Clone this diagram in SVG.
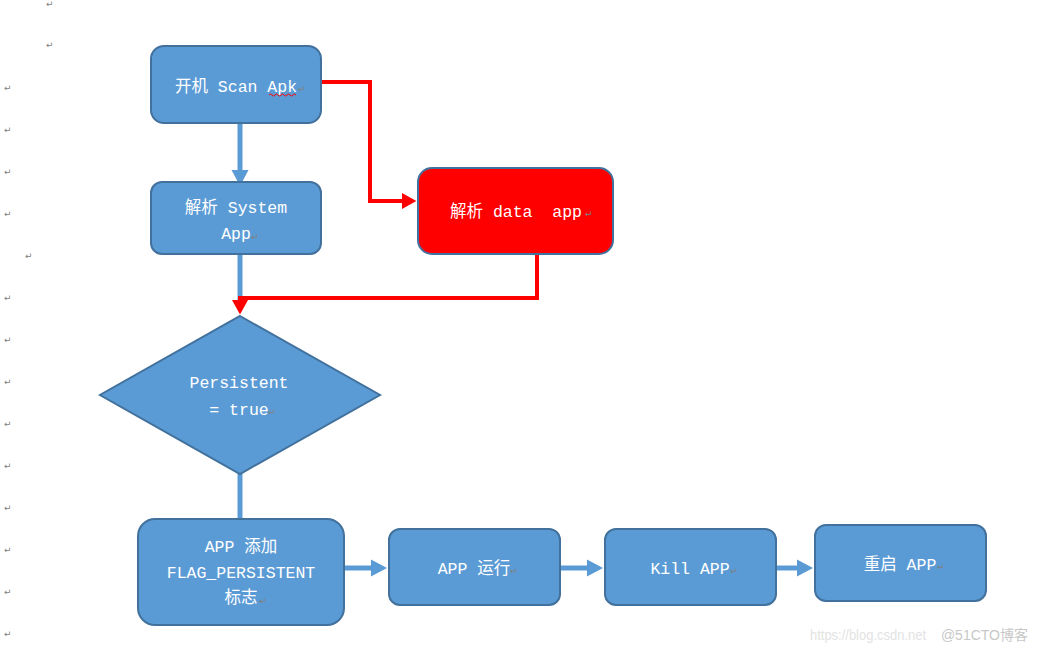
<svg xmlns="http://www.w3.org/2000/svg" width="1037" height="653" viewBox="0 0 1037 653">
<style>
.box{fill:#5b9bd5;stroke:#41719c;stroke-width:2}
.red{fill:#ff0000;stroke:#41719c;stroke-width:2}
.t{font-family:"Liberation Mono","Noto Sans CJK SC",monospace;font-size:16.5px;fill:#ffffff;text-anchor:middle}
.pm{font-family:"DejaVu Sans",sans-serif;font-size:9px;fill:#808080}
.bl{fill:none;stroke:#5b9bd5;stroke-width:5}
.rl{fill:none;stroke:#ff0000;stroke-width:4}
</style>
<defs>
<marker id="ab" markerWidth="4" markerHeight="4" refX="2" refY="2" orient="auto" markerUnits="strokeWidth"><path d="M0,0.3 L3.2,2 L0,3.7 Z" fill="#5b9bd5"/></marker>
<marker id="ar" markerWidth="4" markerHeight="4" refX="2" refY="2" orient="auto" markerUnits="strokeWidth"><path d="M0,0 L3.6,2 L0,4 Z" fill="#ff0000"/></marker>
</defs>
<rect width="1037" height="653" fill="#ffffff"/>
<g id="para-marks">
<text class="pm" x="46" y="7">↵</text>
<text class="pm" x="46" y="48">↵</text>
<text class="pm" x="4" y="91">↵</text>
<text class="pm" x="4" y="133">↵</text>
<text class="pm" x="4" y="175">↵</text>
<text class="pm" x="4" y="217">↵</text>
<text class="pm" x="25" y="259">↵</text>
<text class="pm" x="4" y="301">↵</text>
<text class="pm" x="4" y="343">↵</text>
<text class="pm" x="4" y="385">↵</text>
<text class="pm" x="4" y="427">↵</text>
<text class="pm" x="4" y="469">↵</text>
<text class="pm" x="4" y="511">↵</text>
<text class="pm" x="4" y="553">↵</text>
<text class="pm" x="4" y="595">↵</text>
<text class="pm" x="4" y="637">↵</text>
</g>
<g id="connectors">
<path class="bl" d="M240,123 V180" marker-end="url(#ab)"/>
<path class="bl" d="M240,254 V300"/>
<path class="rl" d="M321,82 H370 V201 H410" marker-end="url(#ar)"/>
<path class="rl" d="M537,254 V298 H240 V308" marker-end="url(#ar)"/>
<path class="bl" d="M240,474 V519"/>
<path class="bl" d="M344,568 H381" marker-end="url(#ab)"/>
<path class="bl" d="M560,568 H597" marker-end="url(#ab)"/>
<path class="bl" d="M776,568 H807" marker-end="url(#ab)"/>
</g>
<g id="n1">
<rect class="box" x="151" y="46" width="170" height="77" rx="13"/>
<text class="t" x="236" y="92" xml:space="preserve">开机 Scan Apk</text>
<path d="M269,95 q1.5,-2 3,0 t3,0 t3,0 t3,0 t3,0 t3,0 t3,0 t3,0 t3,0" fill="none" stroke="#ff0000" stroke-width="1"/>
<text class="pm" x="298" y="92">↵</text>
</g>
<g id="n2">
<rect class="box" x="151" y="182" width="170" height="72" rx="11"/>
<text class="t" x="236" y="213">解析 System</text>
<text class="t" x="236" y="239">App</text>
<text class="pm" x="251" y="240">↵</text>
</g>
<g id="n3">
<rect class="red" x="418" y="168" width="195" height="86" rx="14"/>
<text class="t" x="516" y="217" xml:space="preserve">解析 data  app</text>
<text class="pm" x="585" y="217">↵</text>
</g>
<g id="n4">
<polygon class="box" points="240,316 380,395 240,474 100,395"/>
<text class="t" x="239" y="388">Persistent</text>
<text class="t" x="239" y="415">= true</text>
<text class="pm" x="268" y="415">↵</text>
</g>
<g id="n5">
<rect class="box" x="138" y="519" width="206" height="106" rx="17"/>
<text class="t" x="241" y="552">APP 添加</text>
<text class="t" x="241" y="578">FLAG_PERSISTENT</text>
<text class="t" x="241" y="603">标志</text>
<text class="pm" x="259" y="604">↵</text>
</g>
<g id="n6">
<rect class="box" x="389" y="529" width="171" height="76" rx="11"/>
<text class="t" x="474" y="574">APP 运行</text>
<text class="pm" x="510" y="574">↵</text>
</g>
<g id="n7">
<rect class="box" x="605" y="529" width="171" height="76" rx="11"/>
<text class="t" x="690" y="574">Kill APP</text>
<text class="pm" x="730" y="574">↵</text>
</g>
<g id="n8">
<rect class="box" x="815" y="525" width="171" height="76" rx="11"/>
<text class="t" x="900" y="570">重启 APP</text>
<text class="pm" x="937" y="570">↵</text>
</g>
<g id="watermark" font-family="'Liberation Sans','Noto Sans CJK SC',sans-serif" font-size="14">
<text x="810" y="640" fill="#e3e3e3" textLength="116" lengthAdjust="spacingAndGlyphs">https://blog.csdn.net</text>
<text x="1028" y="640" fill="#c8c8c8" text-anchor="end">@51CTO博客</text>
</g>
</svg>
